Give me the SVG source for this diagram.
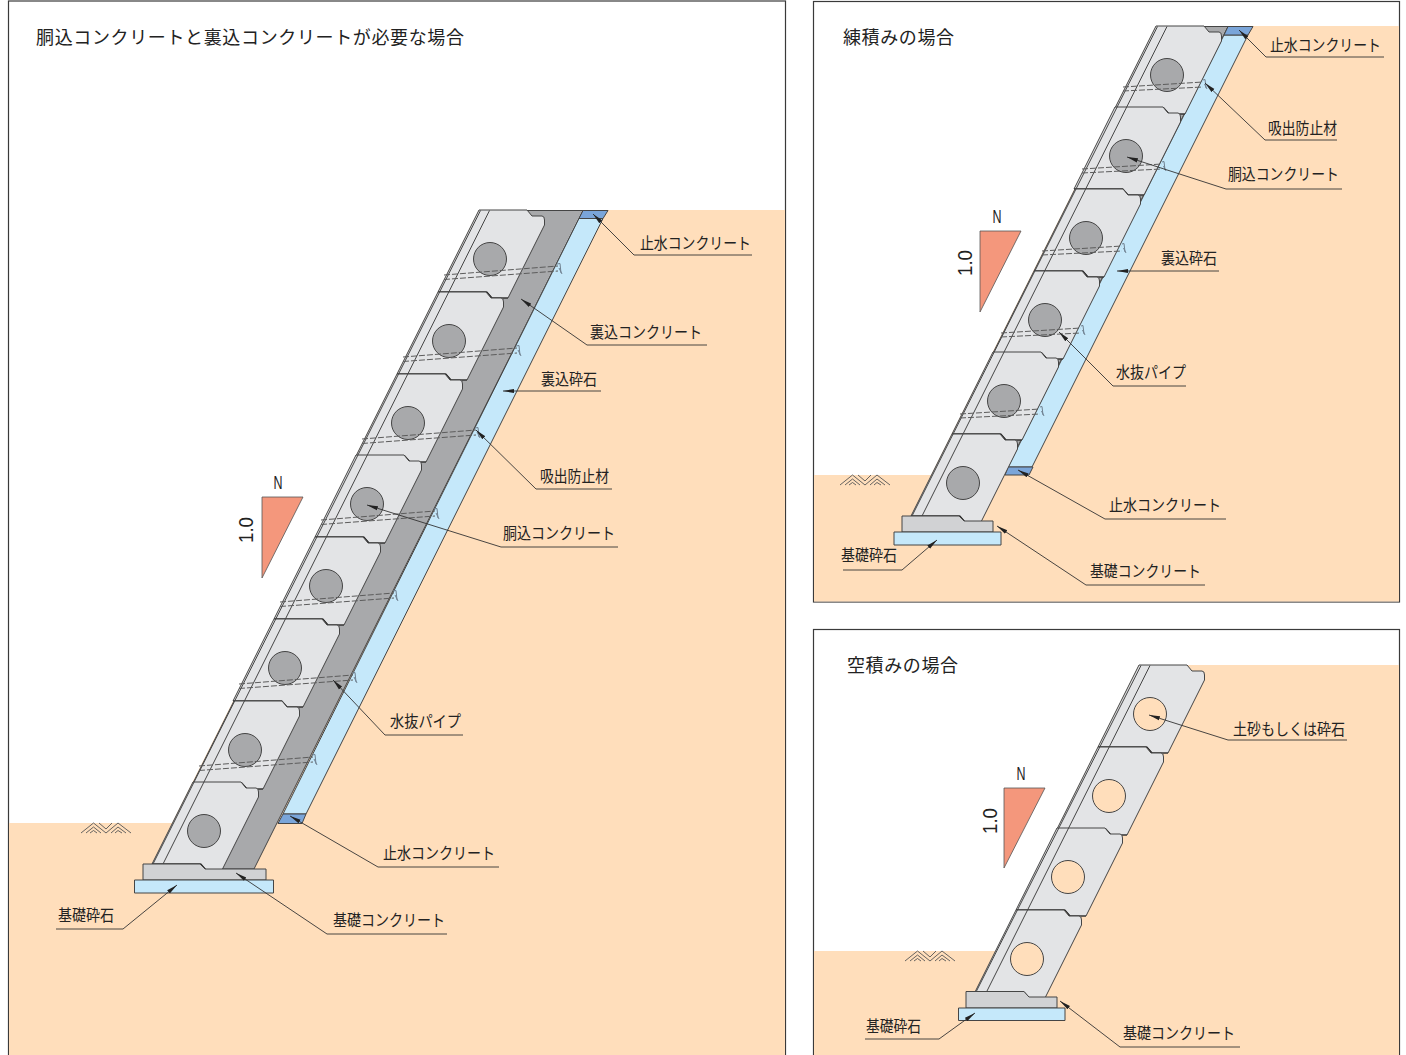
<svg xmlns="http://www.w3.org/2000/svg" width="1406" height="1055" viewBox="0 0 1406 1055">
<style>
.ground{fill:#ffdebb}
.frame{fill:#fff;stroke:#3a3a3a;stroke-width:1.2}
.ol{stroke:#454545;stroke-width:1;stroke-linejoin:round}
.gray{fill:#a8a9ab}
.lblue{fill:#c5e8fa}
.blue{fill:#7aa5d9}
.base{fill:#d1d2d4}
.tri{fill:#f4977c;stroke:#555;stroke-width:.8}
.lda{fill:none;stroke:#333;stroke-width:.9;marker-end:url(#arrow)}
text{font-family:"Noto Sans CJK JP","Liberation Sans",sans-serif;fill:#222}
.t{font-size:18px}
.l{font-size:16px}
.n{font-family:"Liberation Sans",sans-serif;font-size:18px}
.o{font-family:"Liberation Sans",sans-serif;font-size:21px}
</style>
<defs>
<marker id="arrow" markerUnits="userSpaceOnUse" markerWidth="12" markerHeight="6" refX="11" refY="3" orient="auto"><path d="M11 3L0 .9V5.100Z" fill="#222"/></marker>
<g id="block">
<path class="ol" fill="#e3e4e6" d="M-11-49H37L42-43H52Q54.500-43 54.500-39V-34L18 39H2L-3 33H-52Z"/>
<path fill="none" stroke="#2c2c2c" stroke-width="1.200" d="M-52 33H-3L2 39H18"/>
</g>
<circle id="core" r="16.500" fill="#a8a9ab" stroke="#454545" stroke-width="1"/>
<circle id="emptycore" r="16.500" fill="#ffdebb" stroke="#454545" stroke-width="1"/>
<g id="pipe" fill="none" stroke="#5c5c5c" stroke-width="1">
<path stroke-dasharray="6 2" d="M-46 16L68 7M-46 20.500L68 12"/>
<path stroke="#6f8090" d="M67 5L70 4.500 71 14M69 9L72 15"/>
</g>
<g id="pipeshort" fill="none" stroke="#5c5c5c" stroke-width="1">
<path stroke-dasharray="6 2" d="M-44 12L36 7M-44 16L36 12"/>
<path stroke="#6f8090" d="M36 5L38 4.500 39 13M37.500 9L40 14"/>
</g>
<path id="hatch" fill="none" stroke="#555" stroke-width=".9" d="M0 10L12.500 0 25 10 37 0 50 10M5 10L12.500 4 20 10M9 10L12.500 7.500 16 10M30 10L37 4 45 10M34 10L37 7.500 41 10M18 0L25 6 31 0"/>
</defs>

<g id="panel-main">
<rect class="frame" x="8.500" y="1" width="777" height="1060"/>
<path class="ground" d="M9 823H172L479 210H785V1055H9Z"/>
<use href="#hatch" x="81" y="823"/>
<path class="ol gray" d="M527 210.500H583L254 869H198Z"/>
<path class="ol lblue" d="M579 218.500H603L306 814H283Z"/>
<path class="ol blue" d="M583 210.500H608L603 218.500H579Z"/>
<path class="ol blue" d="M283 814H306L302 823.500H278Z"/>
<g id="main-blocks">
<use href="#block" x="490" y="259"/><use href="#block" x="449" y="341"/><use href="#block" x="408" y="423"/><use href="#block" x="367" y="504"/><use href="#block" x="326" y="586"/><use href="#block" x="285" y="668"/><use href="#block" x="245" y="750"/><use href="#block" x="204" y="831"/>
<path fill="none" stroke="#454545" d="M480.500 210.500L153 864M489.500 210.500L163 864"/>
<use href="#core" x="490" y="259"/><use href="#core" x="449" y="341"/><use href="#core" x="408" y="423"/><use href="#core" x="367" y="504"/><use href="#core" x="326" y="586"/><use href="#core" x="285" y="668"/><use href="#core" x="245" y="750"/><use href="#core" x="204" y="831"/>
<use href="#pipe" x="490" y="259"/><use href="#pipe" x="449" y="341"/><use href="#pipe" x="408" y="423"/><use href="#pipe" x="367" y="504"/><use href="#pipe" x="326" y="586"/><use href="#pipe" x="285" y="668"/><use href="#pipe" x="245" y="750"/>
</g>
<path class="ol base" d="M143 864H200L205 869H266V880H143Z"/>
<rect class="ol lblue" x="134.500" y="880" width="139" height="13"/>
<path class="tri" d="M262 497H303L262 578Z"/>
<text class="n" x="278" y="488.500" text-anchor="middle" textLength="9" lengthAdjust="spacingAndGlyphs">N</text>
<text class="o" transform="translate(253 530) rotate(-90)" text-anchor="middle" textLength="26" lengthAdjust="spacingAndGlyphs">1.0</text>
<text class="t" x="36" y="44" textLength="428" lengthAdjust="spacing">胴込コンクリートと裏込コンクリートが必要な場合</text>
</g>

<g id="panel-wet">
<rect class="frame" x="813.500" y="1.500" width="586" height="600.500"/>
<path class="ground" d="M814 475H931L1156 26H1399V601.500H814Z"/>
<use href="#hatch" x="840" y="475"/>
<path class="ol gray" d="M1204 26.500H1228L983 516H959Z"/>
<path class="ol lblue" d="M1224 35H1248L1032 467H1008Z"/>
<path class="ol blue" d="M1228 26.500H1253L1248 35H1224Z"/>
<path class="ol blue" d="M1008 467H1033L1029 475H1005Z"/>
<g id="wet-blocks">
<use href="#block" x="1167" y="75"/><use href="#block" x="1126" y="156"/><use href="#block" x="1086" y="238"/><use href="#block" x="1045" y="320"/><use href="#block" x="1004" y="401"/><use href="#block" x="963" y="483"/>
<path fill="none" stroke="#454545" d="M1157.500 26.500L912 516M1167 26.500L922 516"/>
<use href="#core" x="1167" y="75"/><use href="#core" x="1126" y="156"/><use href="#core" x="1086" y="238"/><use href="#core" x="1045" y="320"/><use href="#core" x="1004" y="401"/><use href="#core" x="963" y="483"/>
<use href="#pipeshort" x="1167" y="75"/><use href="#pipeshort" x="1126" y="157"/><use href="#pipeshort" x="1086" y="239"/><use href="#pipeshort" x="1045" y="321"/><use href="#pipeshort" x="1004" y="402"/>
</g>
<path class="ol base" d="M902 516H959L964 521H993V532H902Z"/>
<rect class="ol lblue" x="894" y="532" width="107" height="13"/>
<path class="tri" d="M980 231H1021L980 312Z"/>
<text class="n" x="997" y="222.500" text-anchor="middle" textLength="9" lengthAdjust="spacingAndGlyphs">N</text>
<text class="o" transform="translate(972 263) rotate(-90)" text-anchor="middle" textLength="26" lengthAdjust="spacingAndGlyphs">1.0</text>
<text class="t" x="843" y="44" textLength="111" lengthAdjust="spacing">練積みの場合</text>
</g>

<g id="panel-dry">
<rect class="frame" x="813.500" y="629.500" width="586" height="432"/>
<path class="ground" d="M814 951H996L1139 665H1399V1055H814Z"/>
<use href="#hatch" x="905" y="951"/>
<g id="dry-blocks">
<use href="#block" x="1150" y="714"/><use href="#block" x="1109" y="796"/><use href="#block" x="1068" y="877"/><use href="#block" x="1027" y="959"/>
<path fill="none" stroke="#454545" d="M1141 665.500L976 992M1150 665.500L986.500 992"/>
<use href="#emptycore" x="1150" y="714"/><use href="#emptycore" x="1109" y="796"/><use href="#emptycore" x="1068" y="877"/><use href="#emptycore" x="1027" y="959"/>
</g>
<path class="ol base" d="M966 991.500H1024L1029 997H1057V1008H966Z"/>
<rect class="ol lblue" x="958.500" y="1008" width="106.500" height="12.500"/>
<path class="tri" d="M1004 788H1045L1004 868Z"/>
<text class="n" x="1021" y="779.500" text-anchor="middle" textLength="9" lengthAdjust="spacingAndGlyphs">N</text>
<text class="o" transform="translate(997 821) rotate(-90)" text-anchor="middle" textLength="26" lengthAdjust="spacingAndGlyphs">1.0</text>
<text class="t" x="847" y="672" textLength="111" lengthAdjust="spacing">空積みの場合</text>
</g>

<g id="connectors">
<path class="lda" d="M752 255H634L593 214"/>
<path class="lda" d="M707 345H587L521 299"/>
<path class="lda" d="M601 391H503"/>
<path class="lda" d="M612 489H536L476 430"/>
<path class="lda" d="M618 547H501L367 505"/>
<path class="lda" d="M463 735H385L333 680"/>
<path class="lda" d="M499 867H378L290 816"/>
<path class="lda" d="M447 934H327L236 873"/>
<path class="lda" d="M56 929H123L177 885"/>
<path class="lda" d="M1384 57H1266L1239 30"/>
<path class="lda" d="M1337 140H1265L1205 83"/>
<path class="lda" d="M1342 189H1226L1127 157"/>
<path class="lda" d="M1219 271H1117"/>
<path class="lda" d="M1186 386H1113L1059 332"/>
<path class="lda" d="M1226 519H1105L1018 470"/>
<path class="lda" d="M1205 585H1086L997 526"/>
<path class="lda" d="M843 570H902L937 540"/>
<path class="lda" d="M1347 740H1228L1149 715"/>
<path class="lda" d="M1240 1047H1120L1060 1001"/>
<path class="lda" d="M865 1039H939L975 1013"/>
</g>

<g id="labels">
<text class="l" x="640" y="249" textLength="111" lengthAdjust="spacingAndGlyphs">止水コンクリート</text>
<text class="l" x="590" y="338" textLength="112" lengthAdjust="spacingAndGlyphs">裏込コンクリート</text>
<text class="l" x="541" y="385" textLength="56" lengthAdjust="spacingAndGlyphs">裏込砕石</text>
<text class="l" x="540" y="482" textLength="69" lengthAdjust="spacingAndGlyphs">吸出防止材</text>
<text class="l" x="503" y="539" textLength="112" lengthAdjust="spacingAndGlyphs">胴込コンクリート</text>
<text class="l" x="390" y="727" textLength="71" lengthAdjust="spacingAndGlyphs">水抜パイプ</text>
<text class="l" x="383" y="859" textLength="112" lengthAdjust="spacingAndGlyphs">止水コンクリート</text>
<text class="l" x="333" y="926" textLength="112" lengthAdjust="spacingAndGlyphs">基礎コンクリート</text>
<text class="l" x="58" y="921" textLength="56" lengthAdjust="spacingAndGlyphs">基礎砕石</text>
<text class="l" x="1270" y="51" textLength="111" lengthAdjust="spacingAndGlyphs">止水コンクリート</text>
<text class="l" x="1268" y="134" textLength="69" lengthAdjust="spacingAndGlyphs">吸出防止材</text>
<text class="l" x="1228" y="180" textLength="111" lengthAdjust="spacingAndGlyphs">胴込コンクリート</text>
<text class="l" x="1161" y="264" textLength="56" lengthAdjust="spacingAndGlyphs">裏込砕石</text>
<text class="l" x="1116" y="378" textLength="70" lengthAdjust="spacingAndGlyphs">水抜パイプ</text>
<text class="l" x="1109" y="511" textLength="112" lengthAdjust="spacingAndGlyphs">止水コンクリート</text>
<text class="l" x="1090" y="577" textLength="111" lengthAdjust="spacingAndGlyphs">基礎コンクリート</text>
<text class="l" x="841" y="561" textLength="56" lengthAdjust="spacingAndGlyphs">基礎砕石</text>
<text class="l" x="1233" y="735" textLength="112" lengthAdjust="spacingAndGlyphs">土砂もしくは砕石</text>
<text class="l" x="1123" y="1039" textLength="112" lengthAdjust="spacingAndGlyphs">基礎コンクリート</text>
<text class="l" x="866" y="1032" textLength="55" lengthAdjust="spacingAndGlyphs">基礎砕石</text>
</g>
</svg>
